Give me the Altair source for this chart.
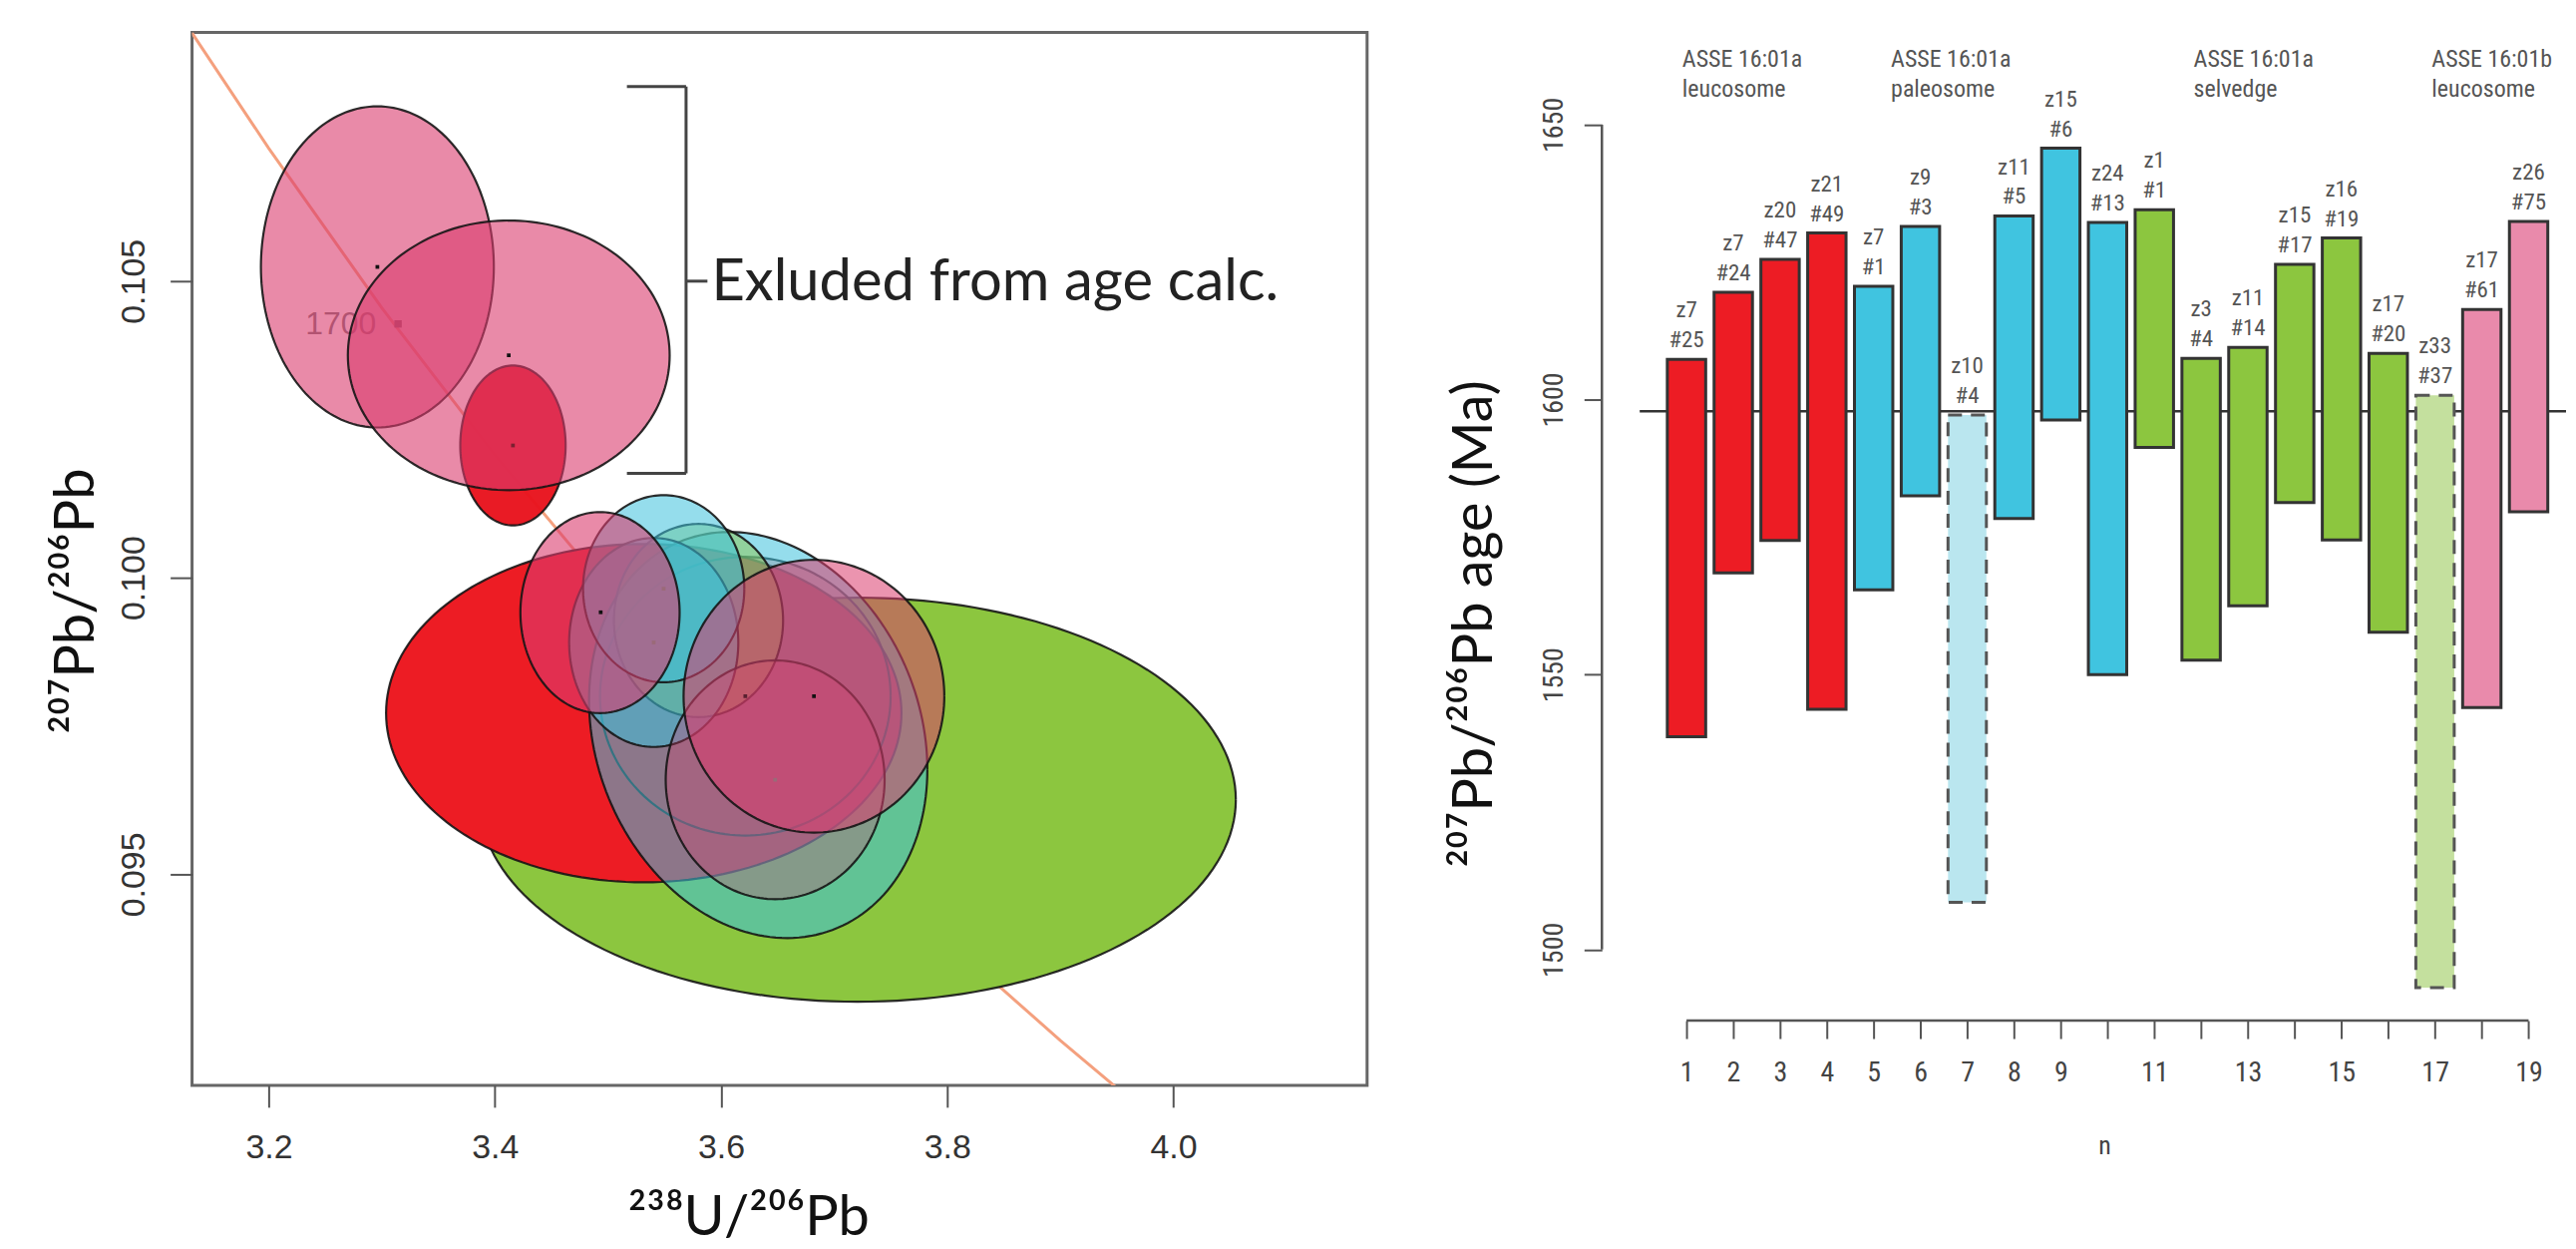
import altair as alt
import pandas as pd
import numpy as np

# ---------------- Left panel: Tera-Wasserburg diagram ----------------
# concordia curve points
conc_x = [3.132, 3.20, 3.30, 3.40, 3.50, 3.60, 3.70, 3.80, 3.90, 3.95]
conc_y = [0.10919, 0.10724, 0.10455, 0.10207, 0.09979, 0.09768, 0.09571, 0.09389, 0.09220, 0.09140]

# error ellipses (centre, half-widths, correlation), in drawing order
ell_cx = [3.4160, 3.2961, 3.4123, 3.7209, 3.5317, 3.6215, 3.6329, 3.5801, 3.5405, 3.5493, 3.6479, 3.6822, 3.4930]
ell_cy = [0.10223, 0.10524, 0.10375, 0.096258, 0.097718, 0.098003, 0.097349, 0.099279, 0.098909, 0.099815, 0.096594, 0.098003, 0.099413]
ell_sx = [0.0466, 0.1030, 0.1423, 0.3344, 0.2279, 0.1285, 0.1496, 0.0748, 0.0748, 0.0713, 0.0968, 0.1153, 0.0704]
ell_sy = [0.001348, 0.002707, 0.002273, 0.003406, 0.002852, 0.002349, 0.003423, 0.001628, 0.001762, 0.001577, 0.002013, 0.002299, 0.001695]
ell_rho = [0, 0, 0, 0, 0, 0, -0.17, 0, 0, 0, 0, 0, 0]
ell_col = ["#E8141E", "#DA3C6E", "#DA3C6E", "#8CC63F", "#ED1C24", "#E8202A", "#3EC1DD",
           "#8CC63F", "#3EC1DD", "#3EC1DD", "#DA3C6E", "#DA3C6E", "#DA3C6E"]
ell_alpha = [0.97, 0.6, 0.6, 1.0, 1.0, 0.3, 0.55, 0.45, 0.55, 0.55, 0.3, 0.55, 0.6]

dot_x = [3.2961, 3.4123, 3.4160, 3.4936, 3.5493, 3.5405, 3.6215, 3.6822, 3.6479]
dot_y = [0.10524, 0.10375, 0.10223, 0.099418, 0.099815, 0.098909, 0.098003, 0.098003, 0.096594]
dot_c = ["#111111", "#111111", "#7a2030", "#111111", "#9a6a78", "#9a6a78", "#5a2030", "#111111", "#9a6a78"]

bracket_x = [3.5168, 3.5691, 3.5691, 3.5691]
bracket_x2 = [3.5691, 3.5691, 3.5168, 3.5880]
bracket_y = [0.10828, 0.10828, 0.10176, 0.10500]
bracket_y2 = [0.10828, 0.10176, 0.10176, 0.10500]

# ---------------- Right panel: 207Pb/206Pb ages ----------------
n_idx = list(range(1, 20))
bar_top = [1607.3, 1619.5, 1625.5, 1630.3, 1620.6, 1631.5, 1597.2, 1633.4, 1645.7, 1632.2,
           1634.5, 1607.5, 1609.5, 1624.6, 1629.4, 1608.4, 1600.8, 1616.4, 1632.4]
bar_bot = [1538.7, 1568.5, 1574.4, 1543.7, 1565.4, 1582.5, 1508.6, 1578.4, 1596.3, 1550.0,
           1591.3, 1552.6, 1562.5, 1581.3, 1574.5, 1557.7, 1493.1, 1544.0, 1579.6]
bar_grp = ["red"] * 4 + ["blue"] * 2 + ["lightblue"] + ["blue"] * 3 + ["green"] * 6 + ["lightgreen"] + ["pink"] * 2
lab_z = ["z7", "z7", "z20", "z21", "z7", "z9", "z10", "z11", "z15", "z24",
         "z1", "z3", "z11", "z15", "z16", "z17", "z33", "z17", "z26"]
lab_h = ["#25", "#24", "#47", "#49", "#1", "#3", "#4", "#5", "#6", "#13",
         "#1", "#4", "#14", "#17", "#19", "#20", "#37", "#61", "#75"]
head_n = [0.91, 5.37, 11.84, 16.93]
head_1 = ["ASSE 16:01a", "ASSE 16:01a", "ASSE 16:01a", "ASSE 16:01b"]
head_2 = ["leucosome", "paleosome", "selvedge", "leucosome"]
mean_age = 1597.9

grp_fill = {"red": "#ED1C24", "blue": "#40C4E0", "lightblue": "#BAE6EF",
            "green": "#8CC63F", "lightgreen": "#C4E09E", "pink": "#E98AAB"}

COND = "Liberation Sans Narrow, Arial Narrow, Roboto Condensed, Lato, sans-serif"
SANS = "Liberation Sans, Arial, sans-serif"

W_L, H_L = 1181, 1058
W_R, H_R = 931, 993

xs = alt.Scale(domain=[3.1322, 4.1714], nice=False, zero=False)
ys = alt.Scale(domain=[0.091443, 0.109195], nice=False, zero=False)

AXL = alt.Axis(values=[3.2, 3.4, 3.6, 3.8, 4.0], format=".1f", domain=False, grid=False,
               tickSize=22, tickWidth=2, tickColor="#555", labelFont=SANS, labelFontSize=34,
               labelColor="#333", labelPadding=24, labelFlush=False, labelOverlap=False,
               title="²³⁸U/²⁰⁶Pb", titleFont="Lato", titleFontSize=56, titleFontWeight="normal",
               titleColor="#111", titleX=559, titleY=150, titleAlign="center",
               titleBaseline="alphabetic")
AYL = alt.Axis(values=[0.095, 0.100, 0.105], format=".3f", domain=False, grid=False,
               tickSize=22, tickWidth=2, tickColor="#555", labelAngle=270, labelAlign="center",
               labelBaseline="alphabetic", labelPadding=26, labelFont=SANS, labelFontSize=34,
               labelColor="#333", labelFlush=False, labelOverlap=False,
               title="²⁰⁷Pb/²⁰⁶Pb", titleFont="Lato", titleFontSize=56, titleFontWeight="normal",
               titleColor="#111", titleAngle=270, titleX=-99, titleY=571, titleAlign="center",
               titleBaseline="alphabetic")

X = alt.X("x:Q", scale=xs, axis=AXL)
Y = alt.Y("y:Q", scale=ys, axis=AYL)

layers = []
conc_df = pd.DataFrame({"x": conc_x, "y": conc_y, "i": range(len(conc_x))})
layers.append(alt.Chart(conc_df).mark_line(color="#F4A07E", strokeWidth=3, clip=True)
              .encode(x=X, y=Y, order="i:Q"))
layers.append(alt.Chart(pd.DataFrame({"x": [3.2950], "y": [0.104279], "s": ["1700"]}))
              .mark_text(align="right", baseline="middle", font=SANS, fontSize=32, color="#777")
              .encode(x=X, y=Y, text="s:N"))
layers.append(alt.Chart(pd.DataFrame({"x": [3.3144], "y": [0.104279]}))
              .mark_square(size=55, color="#555", opacity=1)
              .encode(x=X, y=Y))

for i in range(len(ell_cx)):
    t = np.linspace(0, 2 * np.pi, 181)
    r = ell_rho[i]
    ex = ell_cx[i] + ell_sx[i] * np.cos(t)
    ey = ell_cy[i] + ell_sy[i] * (r * np.cos(t) + np.sqrt(1 - r * r) * np.sin(t))
    edf = pd.DataFrame({"x": ex, "y": ey, "t": np.arange(len(t))})
    layers.append(alt.Chart(edf).mark_line(fill=ell_col[i], fillOpacity=ell_alpha[i],
                                           stroke="#151515", strokeWidth=2.2, strokeOpacity=0.9)
                  .encode(x=X, y=Y, order="t:Q"))

layers.append(alt.Chart(pd.DataFrame({"x": dot_x, "y": dot_y, "c": dot_c}))
              .mark_square(size=14, opacity=1)
              .encode(x=X, y=Y, color=alt.Color("c:N", scale=None)))

br_df = pd.DataFrame({"x": bracket_x, "x2": bracket_x2, "y": bracket_y, "y2": bracket_y2})
layers.append(alt.Chart(br_df).mark_rule(color="#444", strokeWidth=3)
              .encode(x=X, x2="x2:Q", y=Y, y2="y2:Q"))
layers.append(alt.Chart(pd.DataFrame({"x": [3.5916], "y": [0.10500], "s": ["Exluded from age calc."]}))
              .mark_text(align="left", baseline="alphabetic", dy=19, font="Lato", fontSize=58, color="#222")
              .encode(x=X, y=Y, text="s:N"))
# white anchor that fixes the top-left corner of the figure
layers.append(alt.Chart(pd.DataFrame({"a": [0]})).mark_rule(color="white", strokeWidth=1)
              .encode(x=alt.value(-183), x2=alt.value(-182), y=alt.value(-21), y2=alt.value(-20)))

left = alt.layer(*layers).properties(
    width=W_L, height=H_L,
    view=alt.ViewBackground(stroke="#666", strokeWidth=3, fill="white"))

# ---------------- right chart ----------------
xsR = alt.Scale(domain=[0, 19.8], nice=False, zero=False)
ysR = alt.Scale(domain=[1487.08, 1666.78], nice=False, zero=False)

AXR = alt.Axis(values=n_idx, domain=False, grid=False, tickSize=18, tickWidth=2, tickColor="#555",
               labelExpr="indexof([10,12,14,16,18], datum.value) >= 0 ? '' : datum.label",
               labelFont=COND, labelFontSize=28, labelColor="#444", labelPadding=21,
               labelFlush=False, labelOverlap=False,
               title="n", titleFont=COND, titleFontSize=26, titleFontWeight="normal",
               titleColor="#444", titleX=467, titleY=126, titleAlign="center", titleBaseline="middle")
AYR = alt.Axis(values=[1500, 1550, 1600, 1650], format="d", domain=False, grid=False, offset=38,
               tickSize=18, tickWidth=2, tickColor="#555", labelAngle=270, labelAlign="center",
               labelBaseline="alphabetic", labelPadding=22, labelFont=COND, labelFontSize=28,
               labelColor="#444", labelFlush=False, labelOverlap=False,
               title="²⁰⁷Pb/²⁰⁶Pb age (Ma)", titleFont="Lato", titleFontSize=56,
               titleFontWeight="normal", titleColor="#111", titleAngle=270, titleX=-111,
               titleY=594, titleAlign="center", titleBaseline="alphabetic")

XR = alt.X("n:Q", scale=xsR, axis=AXR)
YR = alt.Y("age:Q", scale=ysR, axis=AYR)

bars = pd.DataFrame({"n": n_idx, "top": bar_top, "bot": bar_bot, "grp": bar_grp,
                     "z": lab_z, "h": lab_h})
bars["fill"] = bars["grp"].map(grp_fill)
bars["dashed"] = bars["grp"].isin(["lightblue", "lightgreen"])
bars["xl"] = bars["n"] - 0.41
bars["xr"] = bars["n"] + 0.41

rlayers = []
rlayers.append(alt.Chart(pd.DataFrame({"age": [mean_age]})).mark_rule(color="#333", strokeWidth=2.5)
               .encode(y=YR))
solid = bars[~bars["dashed"]]
dashed = bars[bars["dashed"]]
rlayers.append(alt.Chart(solid).mark_rect(stroke="#333", strokeWidth=3)
               .encode(x=alt.X("xl:Q", scale=xsR, axis=AXR), x2="xr:Q",
                       y=alt.Y("top:Q", scale=ysR, axis=AYR), y2="bot:Q",
                       fill=alt.Fill("fill:N", scale=None)))
rlayers.append(alt.Chart(dashed).mark_rect(stroke="#555", strokeWidth=3, strokeDash=[14, 9])
               .encode(x=alt.X("xl:Q", scale=xsR, axis=AXR), x2="xr:Q",
                       y=alt.Y("top:Q", scale=ysR, axis=AYR), y2="bot:Q",
                       fill=alt.Fill("fill:N", scale=None)))
rlayers.append(alt.Chart(bars).mark_text(baseline="middle", dy=-49, font=COND, fontSize=23, color="#555")
               .encode(x=XR, y=alt.Y("top:Q", scale=ysR, axis=AYR), text="z:N"))
rlayers.append(alt.Chart(bars).mark_text(baseline="middle", dy=-19, font=COND, fontSize=23, color="#555")
               .encode(x=XR, y=alt.Y("top:Q", scale=ysR, axis=AYR), text="h:N"))
heads = pd.DataFrame({"n": head_n * 2, "age": [1661.7] * 4 + [1656.3] * 4, "s": head_1 + head_2})
rlayers.append(alt.Chart(heads).mark_text(align="left", baseline="middle", font=COND, fontSize=24, color="#555")
               .encode(x=XR, y=YR, text="s:N"))
# axis lines spanning only the tick range
rlayers.append(alt.Chart(pd.DataFrame({"age": [1500], "age2": [1650]}))
               .mark_rule(color="#555", strokeWidth=2.5)
               .encode(x=alt.value(-38), y=YR, y2="age2:Q"))
rlayers.append(alt.Chart(pd.DataFrame({"n": [1], "n2": [19]}))
               .mark_rule(color="#555", strokeWidth=2.5)
               .encode(x=XR, x2="n2:Q", y=alt.value(H_R)))

right = alt.layer(*rlayers).properties(
    width=W_R, height=H_R,
    view=alt.ViewBackground(strokeOpacity=0, fill="white"))

chart = alt.HConcatChart(hconcat=[left, right], spacing=274, bounds="flush").properties(
    padding={"left": 0, "right": 0, "top": 0, "bottom": 0}
).configure(background="white")

chart.save("out.html", embed_options={"renderer": "svg", "actions": False})
